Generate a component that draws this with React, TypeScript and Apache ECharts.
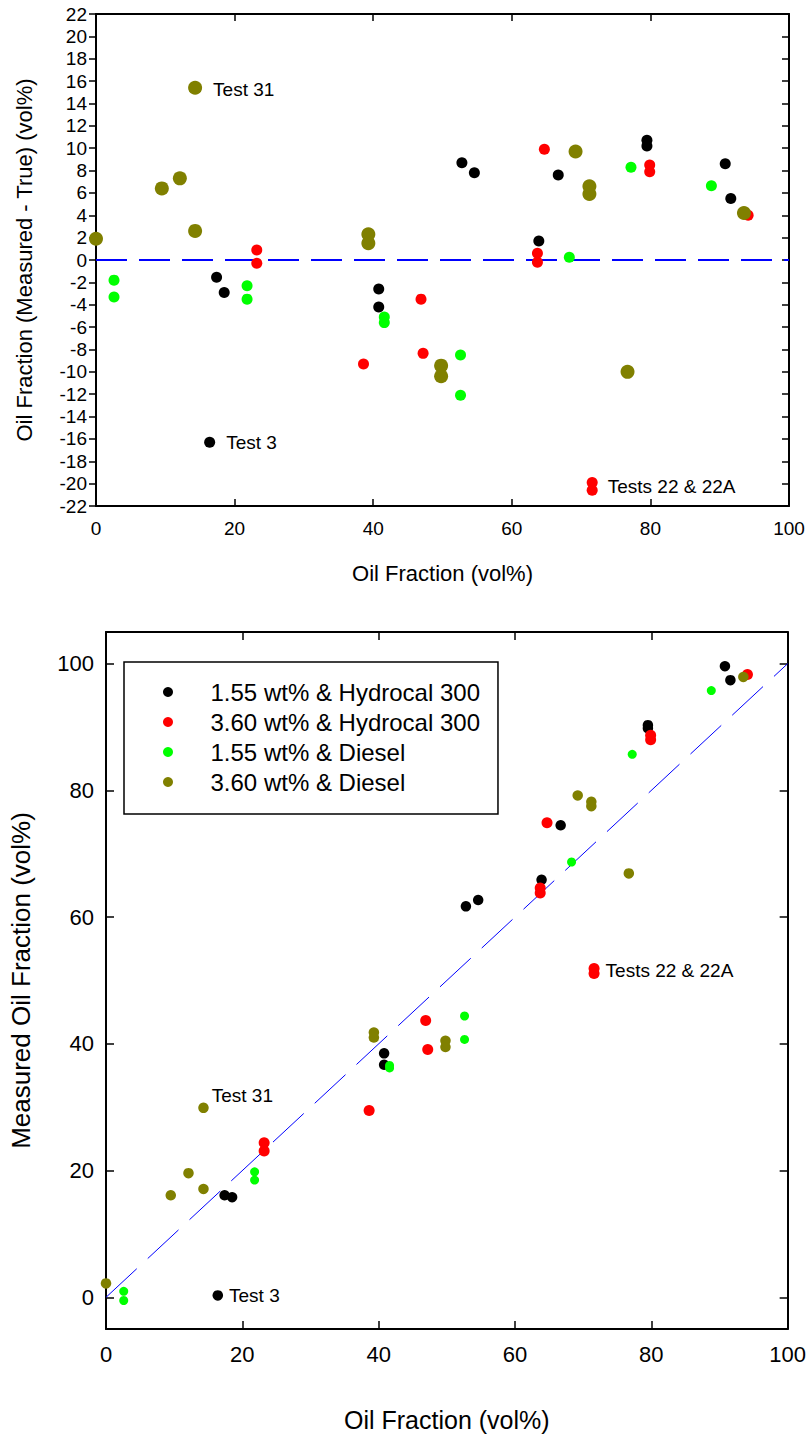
import React, { useEffect, useRef } from "react";
import * as echarts from "echarts";

const FONT = 'Arial, "Liberation Sans", Helvetica, sans-serif';

// Series names (legend)
const seriesNames = [
  "1.55 wt% & Hydrocal 300",
  "3.60 wt% & Hydrocal 300",
  "1.55 wt% & Diesel",
  "3.60 wt% & Diesel",
];

// 1.55 wt% & Hydrocal 300
const hydro155True = [16.4, 17.4, 18.5, 40.8, 40.8, 52.8, 54.6, 63.9, 66.7, 79.5, 79.5, 90.8, 91.6];
const hydro155Diff = [-16.3, -1.55, -2.9, -2.6, -4.2, 8.7, 7.8, 1.7, 7.6, 10.7, 10.2, 8.6, 5.5];
const hydro155Meas = [0.3, 16.1, 15.8, 38.5, 36.7, 61.7, 62.7, 65.9, 74.5, 90.3, 89.8, 99.6, 97.4];

// 3.60 wt% & Hydrocal 300
const hydro360True = [23.2, 23.2, 38.6, 46.9, 47.2, 63.7, 63.7, 64.7, 71.6, 71.6, 79.9, 79.9, 94.1];
const hydro360Diff = [0.9, -0.3, -9.3, -3.5, -8.35, 0.6, -0.2, 9.9, -19.9, -20.6, 8.5, 7.9, 4.0];
const hydro360Meas = [24.4, 23.1, 29.5, 43.7, 39.1, 64.6, 63.8, 74.9, 51.9, 51.1, 88.7, 88.0, 98.3];

// 1.55 wt% & Diesel
const diesel155True = [2.6, 2.6, 21.8, 21.8, 41.6, 41.6, 52.6, 52.6, 68.3, 77.2, 88.8];
const diesel155Diff = [-1.8, -3.3, -2.3, -3.5, -5.1, -5.6, -8.5, -12.1, 0.25, 8.3, 6.65];
const diesel155Meas = [0.95, -0.5, 19.8, 18.5, 36.6, 36.2, 44.4, 40.7, 68.7, 85.7, 95.75];

// 3.60 wt% & Diesel
const diesel360True = [0, 9.5, 12.1, 14.3, 14.3, 39.3, 39.3, 49.8, 49.8, 69.2, 71.2, 71.2, 76.7, 93.5];
const diesel360Diff = [1.9, 6.4, 7.3, 15.4, 2.6, 2.3, 1.5, -9.45, -10.4, 9.7, 6.6, 5.9, -10.0, 4.2];
const diesel360Meas = [2.2, 16.1, 19.6, 29.9, 17.1, 41.8, 41.0, 40.5, 39.5, 79.2, 78.2, 77.5, 66.9, 97.9];

// Reference lines
const zeroLine = [[0, 0], [100, 0]];
const parityLine = [[0, 0], [100, 100]];

// Tick values
const measuredTicks = [0, 20, 40, 60, 80, 100];

// Annotations: [seriesIndex, pointIndex, text]
const annotations: [number, number, string][] = [
  [3, 3, "Test 31"],
  [0, 0, "Test 3"],
  [1, 8, "Tests 22 & 22A"],
];

const trueVals = [hydro155True, hydro360True, diesel155True, diesel360True];
const diffVals = [hydro155Diff, hydro360Diff, diesel155Diff, diesel360Diff];
const measVals = [hydro155Meas, hydro360Meas, diesel155Meas, diesel360Meas];

const colors = ["#000000", "#ff0000", "#00ff00", "#808000"];
const topSizes = [11, 11, 11, 14];
const bottomSizes = [10.5, 11, 9, 10.5];

// label placement style per chart (top / bottom)
const labelStyleTop: Record<string, any> = {
  "Test 31": { distance: 11, offset: [0, 2] },
  "Test 3": { distance: 11, offset: [0, 0] },
  "Tests 22 & 22A": { distance: 10, offset: [0, 4.4] },
};
const labelStyleBottom: Record<string, any> = {
  "Test 31": { distance: 3, offset: [0, -12] },
  "Test 3": { distance: 6, offset: [0, 0] },
  "Tests 22 & 22A": { distance: 6, offset: [0, 2.5] },
};

function buildData(si: number, ys: number[], styles: Record<string, any>) {
  return trueVals[si].map((x, i) => {
    const a = annotations.find((an) => an[0] === si && an[1] === i);
    if (!a) return [x, ys[i]];
    const st = styles[a[2]];
    return {
      value: [x, ys[i]],
      label: {
        show: true,
        position: "right",
        formatter: a[2],
        distance: st.distance,
        offset: st.offset,
        fontSize: 19,
        fontFamily: FONT,
        color: "#000",
      },
    };
  });
}

const axisLineStyle = { onZero: false, lineStyle: { color: "#000", width: 2 } };
const tickStyle = { color: "#000", width: 1.5 };

function makeOption() {
  const series: any[] = [];
  series.push({
    name: "zero",
    type: "line",
    xAxisIndex: 0,
    yAxisIndex: 0,
    data: zeroLine,
    symbol: "none",
    silent: true,
    z: 1,
    lineStyle: { color: "#0000ff", width: 2, type: [31, 12] },
  });
  for (let s = 0; s < 4; s++) {
    series.push({
      name: seriesNames[s],
      type: "scatter",
      xAxisIndex: 0,
      yAxisIndex: 0,
      symbol: "circle",
      symbolSize: topSizes[s],
      clip: false,
      z: 2 + s,
      itemStyle: { color: colors[s], opacity: 1 },
      data: buildData(s, diffVals[s], labelStyleTop),
    });
  }
  series.push({
    name: "parity",
    type: "line",
    xAxisIndex: 2,
    yAxisIndex: 2,
    data: parityLine,
    symbol: "none",
    silent: true,
    z: 1,
    lineStyle: { color: "#0000ff", width: 1, type: [42, 15] },
  });
  for (let s = 0; s < 4; s++) {
    series.push({
      name: seriesNames[s],
      type: "scatter",
      xAxisIndex: 2,
      yAxisIndex: 2,
      symbol: "circle",
      symbolSize: bottomSizes[s],
      clip: false,
      z: 2 + s,
      itemStyle: { color: colors[s], opacity: 1 },
      data: buildData(s, measVals[s], labelStyleBottom),
    });
  }

  const txt = (size: number) => ({ fontSize: size, fontFamily: FONT, color: "#000" });

  return {
    animation: false,
    backgroundColor: "#ffffff",
    textStyle: { fontFamily: FONT },
    grid: [
      { left: 96, top: 14, width: 693, height: 492 },
      { left: 102, top: 632, width: 687, height: 697 },
    ],
    legend: {
      data: seriesNames,
      orient: "vertical",
      left: 124,
      top: 662,
      icon: "circle",
      symbolKeepAspect: true,
      itemWidth: 75,
      itemHeight: 10,
      itemGap: 0,
      padding: [15, 18, 17, 39],
      backgroundColor: "#ffffff",
      borderColor: "#000",
      borderWidth: 1.5,
      borderRadius: 0,
      selectedMode: false,
      textStyle: { ...txt(24), lineHeight: 30 },
    },
    xAxis: [
      {
        gridIndex: 0,
        type: "value",
        position: "bottom",
        min: 0,
        max: 100,
        interval: 20,
        axisLine: axisLineStyle,
        axisTick: { inside: true, length: 7, lineStyle: tickStyle },
        axisLabel: { margin: 13, ...txt(19) },
        splitLine: { show: false },
        name: "Oil Fraction (vol%)",
        nameLocation: "middle",
        nameGap: 56,
        nameTextStyle: txt(22),
      },
      {
        gridIndex: 0,
        type: "value",
        position: "top",
        min: 0,
        max: 100,
        interval: 20,
        axisLine: axisLineStyle,
        axisTick: { inside: true, length: 7, lineStyle: tickStyle },
        axisLabel: { show: false },
        splitLine: { show: false },
      },
      {
        gridIndex: 1,
        type: "value",
        position: "bottom",
        min: 0,
        max: 100,
        interval: 20,
        axisLine: axisLineStyle,
        axisTick: { inside: true, length: 8, lineStyle: tickStyle },
        axisLabel: { margin: 14, ...txt(22) },
        splitLine: { show: false },
        name: "Oil Fraction (vol%)",
        nameLocation: "middle",
        nameGap: 78,
        nameTextStyle: txt(25),
      },
      {
        gridIndex: 1,
        type: "value",
        position: "top",
        min: 0,
        max: 100,
        interval: 20,
        axisLine: axisLineStyle,
        axisTick: { inside: true, length: 8, lineStyle: tickStyle },
        axisLabel: { show: false },
        splitLine: { show: false },
      },
    ],
    yAxis: [
      {
        gridIndex: 0,
        type: "value",
        position: "left",
        min: -22,
        max: 22,
        interval: 2,
        axisLine: axisLineStyle,
        axisTick: { inside: false, length: 7, lineStyle: tickStyle },
        axisLabel: { margin: 9, ...txt(19) },
        splitLine: { show: false },
        name: "Oil Fraction (Measured - True) (vol%)",
        nameLocation: "middle",
        nameGap: 61,
        nameTextStyle: txt(22),
      },
      {
        gridIndex: 0,
        type: "value",
        position: "right",
        min: -22,
        max: 22,
        interval: 2,
        axisLine: axisLineStyle,
        axisTick: { inside: true, length: 7, lineStyle: tickStyle },
        axisLabel: { show: false },
        splitLine: { show: false },
      },
      {
        gridIndex: 1,
        type: "value",
        position: "left",
        min: -5,
        max: 105,
        axisLine: axisLineStyle,
        axisTick: { inside: true, length: 8, lineStyle: tickStyle, customValues: measuredTicks },
        axisLabel: { margin: 12, ...txt(22), customValues: measuredTicks },
        splitLine: { show: false },
        name: "Measured Oil Fraction (vol%)",
        nameLocation: "middle",
        nameGap: 72,
        nameTextStyle: txt(26),
      },
      {
        gridIndex: 1,
        type: "value",
        position: "right",
        min: -5,
        max: 105,
        axisLine: axisLineStyle,
        axisTick: { inside: true, length: 8, lineStyle: tickStyle, customValues: measuredTicks },
        axisLabel: { show: false, customValues: measuredTicks },
        splitLine: { show: false },
      },
    ],
    series,
  };
}

export default function App() {
  const ref = useRef<HTMLDivElement>(null);
  useEffect(() => {
    document.body.style.margin = "0";
    const chart = echarts.init(ref.current!, null, { renderer: "svg" });
    chart.setOption(makeOption() as any);
    return () => chart.dispose();
  }, []);
  return (
    <div
      ref={ref}
      style={{ position: "absolute", left: 0, top: 0, width: 809, height: 1437, background: "#fff" }}
    />
  );
}
